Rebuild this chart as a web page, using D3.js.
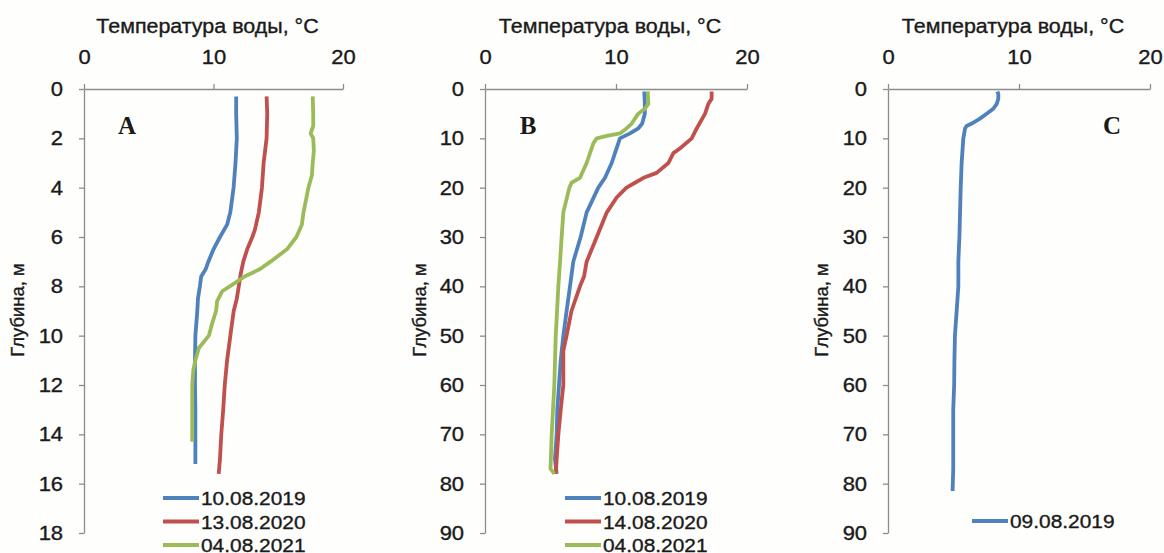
<!DOCTYPE html>
<html>
<head>
<meta charset="utf-8">
<script src="https://cdn.jsdelivr.net/npm/d3@7"></script>
<style>
  body { margin: 0; background: #fefefc; }
  svg { display: block; }
</style>
</head>
<body>
<svg id="chart" width="1164" height="553"></svg>
<script>
// --- data (depth, m / temperature, °C) ---
const tempTicks = [0, 10, 20];
const depthTicksA = [0, 2, 4, 6, 8, 10, 12, 14, 16, 18];
const depthTicksBC = [0, 10, 20, 30, 40, 50, 60, 70, 80, 90];

const datesA = ["10.08.2019", "13.08.2020", "04.08.2021"];
const datesB = ["10.08.2019", "14.08.2020", "04.08.2021"];
const datesC = ["09.08.2019"];

const depthA1 = [0.3, 1, 2, 3, 4, 5, 5.5, 6, 6.5, 7, 7.3, 7.6, 8, 8.5, 9, 10, 11, 12, 13, 14, 15.2];
const tempA1  = [11.75, 11.75, 11.8, 11.7, 11.55, 11.3, 11.05, 10.5, 10.0, 9.6, 9.4, 9.05, 8.95, 8.8, 8.75, 8.6, 8.57, 8.57, 8.6, 8.6, 8.6];
const depthA2 = [0.3, 1, 2, 3, 4, 5, 5.7, 6, 6.5, 7, 7.5, 8, 8.5, 9, 10, 11, 12, 13, 14, 15, 15.6];
const tempA2  = [14.1, 14.15, 14.1, 13.87, 13.74, 13.5, 13.2, 13.0, 12.6, 12.3, 12.1, 11.95, 11.8, 11.56, 11.3, 11.05, 10.87, 10.75, 10.6, 10.5, 10.4];
const depthA3 = [0.3, 1, 1.5, 1.8, 2, 2.5, 3, 3.5, 4, 5, 5.5, 6, 6.5, 7, 7.3, 7.6, 7.9, 8.2, 8.6, 9, 9.5, 10, 10.5, 11, 11.4, 12, 13, 14.3];
const tempA3  = [17.66, 17.7, 17.7, 17.5, 17.7, 17.75, 17.66, 17.6, 17.33, 16.95, 16.82, 16.4, 15.67, 14.4, 13.6, 12.4, 11.55, 10.67, 10.28, 10.2, 9.9, 9.64, 8.87, 8.6, 8.44, 8.36, 8.36, 8.36];

const depthB1 = [0.5, 3, 5, 7, 8, 9, 10, 12, 15, 18, 20, 25, 30, 35, 40, 45, 50, 55, 60, 65, 70, 75, 78];
const tempB1  = [12.16, 12.2, 12.2, 12.0, 11.7, 11.07, 10.3, 10.05, 9.67, 9.16, 8.65, 7.76, 7.3, 6.74, 6.49, 6.23, 5.98, 5.78, 5.65, 5.52, 5.47, 5.34, 5.47];
const depthB2 = [0.5, 2, 3, 5, 8, 10, 12, 13, 15, 17, 18, 19, 20, 22, 25, 30, 35, 38, 40, 45, 50, 53, 60, 65, 70, 75, 78];
const tempB2  = [17.3, 17.3, 17.05, 16.8, 16.16, 15.78, 14.9, 14.38, 14.0, 13.1, 12.1, 11.45, 10.8, 10.05, 9.3, 8.53, 7.76, 7.56, 7.25, 6.6, 6.23, 5.98, 5.98, 5.78, 5.6, 5.47, 5.4];
const depthB3 = [0.5, 3, 4, 5, 7, 8, 9, 9.5, 10, 11, 15, 18, 19, 20, 25, 30, 35, 40, 50, 60, 70, 77, 78];
const tempB3  = [12.42, 12.47, 12.2, 11.7, 11.2, 10.8, 10.3, 9.3, 8.53, 8.27, 7.76, 7.25, 6.6, 6.44, 5.98, 5.85, 5.73, 5.6, 5.4, 5.29, 5.09, 5.0, 5.3];

const depthC1 = [0.5, 1, 2, 3, 4, 5, 6, 7, 7.5, 8, 10, 15, 20, 25, 30, 35, 40, 45, 50, 55, 60, 65, 70, 77, 81.5];
const tempC1  = [8.35, 8.42, 8.42, 8.3, 8.04, 7.53, 7.02, 6.39, 6.0, 5.88, 5.75, 5.62, 5.55, 5.5, 5.45, 5.37, 5.37, 5.24, 5.11, 5.07, 5.05, 4.98, 4.98, 4.98, 4.93];

const colors = ["#4f81bd", "#c0504d", "#9bbb59"];

const zip = (d, t) => d.map((v, i) => ({depth: v, temp: t[i]}));

const panels = [
  {letter: "A", x0: 84, x1: 343, maxDepth: 18, ticks: depthTicksA, dates: datesA,
   series: [zip(depthA1, tempA1), zip(depthA2, tempA2), zip(depthA3, tempA3)],
   legendX: 163, legendY: 498, labelX: 127, ylabX: 18},
  {letter: "B", x0: 485, x1: 747, maxDepth: 90, ticks: depthTicksBC, dates: datesB,
   series: [zip(depthB1, tempB1), zip(depthB2, tempB2), zip(depthB3, tempB3)],
   legendX: 565, legendY: 498, labelX: 528, ylabX: 420},
  {letter: "C", x0: 888, x1: 1150, maxDepth: 90, ticks: depthTicksBC, dates: datesC,
   series: [zip(depthC1, tempC1)],
   legendX: 972, legendY: 521, labelX: 1112, ylabX: 822}
];

const svg = d3.select("#chart");
const top_margin = 89;
const bottom = 533;
const stretch = 1.1;   // source picture is a bit wide
const axisColor = "#8c8c8c";
const ink = "#1a1a1a";
const font = "Arial, 'Liberation Sans', sans-serif";

function label(g, x, y, txt, size, anchor) {
  return g.append("text")
    .attr("transform", `translate(${x},${y}) scale(${stretch},1)`)
    .attr("text-anchor", anchor || "middle")
    .style("font-family", font)
    .style("font-size", size + "px")
    .style("fill", ink)
    .style("stroke", ink)
    .style("stroke-width", 0.35)
    .text(txt);
}

panels.forEach(p => {
  const g = svg.append("g");
  const x = d3.scaleLinear().domain([0, 20]).range([p.x0, p.x1]);
  const y = d3.scaleLinear().domain([0, p.maxDepth]).range([top_margin, bottom]);

  // top axis
  const xa = g.append("g")
    .attr("transform", `translate(0,${top_margin})`)
    .call(d3.axisTop(x).tickValues(tempTicks).tickSize(5).tickPadding(20).tickSizeOuter(0));
  // left axis
  const ya = g.append("g")
    .attr("transform", `translate(${p.x0},0)`)
    .call(d3.axisLeft(y).tickValues(p.ticks).tickSize(5).tickPadding(14).tickSizeOuter(0));

  [xa, ya].forEach(a => {
    a.select(".domain").attr("stroke", axisColor).attr("stroke-width", 1.3);
    a.selectAll(".tick line").attr("stroke", axisColor).attr("stroke-width", 1.3);
    a.selectAll(".tick text")
      .attr("transform", `scale(${stretch},1)`)
      .style("font-family", font)
      .style("font-size", "20px")
      .style("stroke", ink)
      .style("stroke-width", 0.35)
      .attr("fill", ink);
  });
  xa.selectAll(".tick text").attr("dy", "0em");

  // axis titles
  label(g, (p.x0 + p.x1) / 2 - 6, 33, "Температура воды, °C", 19.5);
  g.append("text")
    .attr("transform", `translate(${p.ylabX + 6},310) rotate(-90)`)
    .attr("text-anchor", "middle")
    .style("font-family", font)
    .style("font-size", "18.5px")
    .style("fill", ink)
    .style("stroke", ink)
    .style("stroke-width", 0.35)
    .text("Глубина, м");

  // panel letter
  g.append("text")
    .attr("x", p.labelX)
    .attr("y", 134)
    .attr("text-anchor", "middle")
    .style("font-family", "'Liberation Serif', 'Times New Roman', serif")
    .style("font-weight", "bold")
    .style("font-size", "25px")
    .style("fill", ink)
    .text(p.letter);

  const line = d3.line().x(d => x(d.temp)).y(d => y(d.depth));
  p.series.forEach((s, i) => {
    g.append("path")
      .datum(s)
      .attr("d", line)
      .attr("fill", "none")
      .attr("stroke", colors[i])
      .attr("stroke-width", 3.8)
      .attr("stroke-linejoin", "round");
  });

  // legend
  const lg = g.append("g");
  p.dates.forEach((d, i) => {
    const ly = p.legendY + i * 23.5;
    lg.append("line")
      .attr("x1", p.legendX).attr("x2", p.legendX + 36)
      .attr("y1", ly).attr("y2", ly)
      .attr("stroke", colors[i]).attr("stroke-width", 3.8);
    label(lg, p.legendX + 38, ly + 7, d, 19, "start");
  });
});
</script>
</body>
</html>
